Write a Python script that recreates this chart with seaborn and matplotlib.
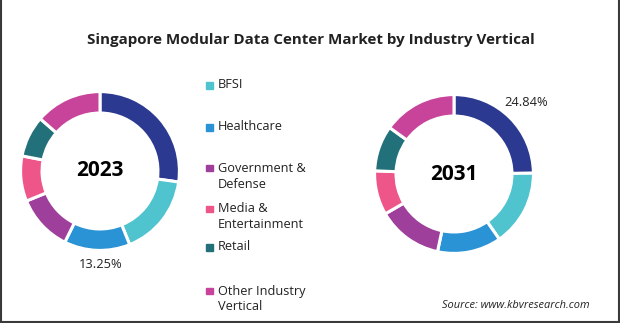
import matplotlib
matplotlib.use("Agg")
import matplotlib.pyplot as plt
import seaborn as sns
from matplotlib.lines import Line2D

sns.set_theme(style="white")
plt.rcParams["font.family"] = ["Open Sans", "DejaVu Sans"]

title = "Singapore Modular Data Center Market by Industry Vertical"
segments = ["IT & Telecom", "BFSI", "Healthcare", "Government & Defense",
            "Media & Entertainment", "Retail", "Other Industry Vertical"]
legend_labels = ["BFSI", "Healthcare", "Government &\nDefense",
                 "Media &\nEntertainment", "Retail", "Other Industry\nVertical"]
share_2023 = [26.9, 16.5, 13.25, 11.4, 9.1, 8.3, 13.4]
share_2031 = [24.84, 15.5, 13.0, 13.3, 9.0, 9.3, 15.06]
colors = sns.color_palette(["#2B3990", "#4FC4CF", "#2A93D5", "#9D3F9B",
                            "#EE5589", "#22707A", "#C7449A"])

W, H = 620, 323
fig = plt.figure(figsize=(W / 100, H / 100), dpi=100)


def donut(cx, cy, r, values, year, label_idx, label_xy):
    ax = fig.add_axes([(cx - r) / W, (H - cy - r) / H, 2 * r / W, 2 * r / H])
    ax.pie(values, colors=colors, startangle=90, counterclock=False,
           radius=1.0, wedgeprops=dict(width=0.27, edgecolor="white", linewidth=2.2))
    ax.set_xlim(-1.02, 1.02)
    ax.set_ylim(-1.02, 1.02)
    ax.set_aspect("equal")
    ax.axis("off")
    ax.text(0, 0, year, ha="center", va="center", fontsize=15,
            fontweight="bold", color="black")
    lx, ly = label_xy
    fig.text(lx / W, 1 - ly / H, f"{values[label_idx]:.2f}%", ha="center",
             va="center", fontsize=9.3, color="#222222")


donut(100, 171, 81, share_2023, "2023", 2, (101, 265))
donut(454, 174, 81, share_2031, "2031", 0, (526, 103))

fig.text(311 / W, 1 - 40 / H, title, ha="center", va="center",
         fontsize=10.9, fontweight="bold", color="#222222")

# legend entries
leg_ax = fig.add_axes([0, 0, 1, 1])
leg_ax.set_xlim(0, W)
leg_ax.set_ylim(H, 0)
leg_ax.axis("off")
leg_y = [85, 127, 176, 217, 247, 299]
for lab, col, y in zip(legend_labels, colors[1:], leg_y):
    nl = lab.count("\n")
    y_sq = y - 8.5 * nl
    leg_ax.add_patch(plt.Rectangle((206, y_sq - 3), 6.5, 6.5, color=col))
    leg_ax.text(218, y, lab, ha="left", va="center", fontsize=9.2,
                color="#222222", linespacing=1.3)

fig.text(590 / W, 1 - 306 / H, "Source: www.kbvresearch.com", ha="right",
         va="center", fontsize=7.9, style="italic", color="#222222")

# frame on left, right and bottom
for xs, ys in [((0.5, 0.5), (0, H)), ((W - 1.5, W - 1.5), (0, H)),
               ((0, W), (H - 1.5, H - 1.5))]:
    leg_ax.add_line(Line2D(xs, ys, color="#3a3a3a", linewidth=1.5))

fig.savefig("out.png", dpi=100, facecolor="white")
